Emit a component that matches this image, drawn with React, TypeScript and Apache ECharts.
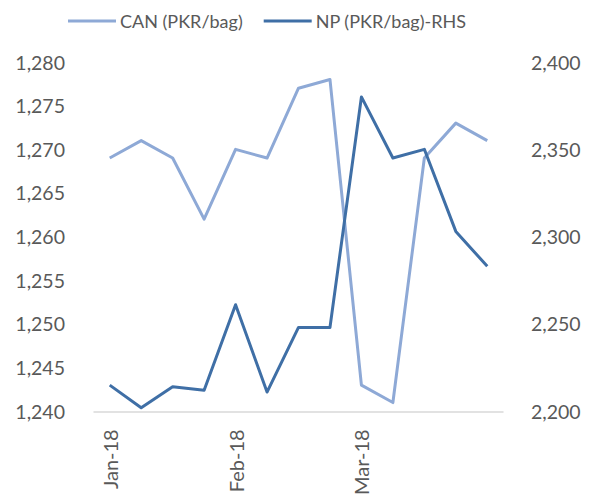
import React, { useEffect, useRef } from "react";
import * as echarts from "echarts";

const categories = ["Jan-18", "", "", "", "Feb-18", "", "", "", "Mar-18", "", "", "", ""];
const canValues = [1269, 1271, 1269, 1262, 1270, 1269, 1277, 1278, 1243, 1241, 1269, 1273, 1271];
const npValues = [2215, 2202, 2214, 2212, 2261, 2211, 2248, 2248, 2380, 2345, 2350, 2303, 2283];
const seriesNames = ["CAN (PKR/bag)", "NP (PKR/bag)-RHS"];

const FONT = "Lato, 'Open Sans', sans-serif";
const GREY = "#595959";

export default function App() {
  const ref = useRef<HTMLDivElement>(null);
  useEffect(() => {
    if (!ref.current) return;
    const chart = echarts.init(ref.current, null, { renderer: "svg" });
    const fmt = (v: number) => v.toLocaleString("en-US");
    chart.setOption({
      animation: false,
      backgroundColor: "#ffffff",
      textStyle: { fontFamily: FONT },
      legend: {
        top: 7,
        left: 63,
        itemWidth: 48,
        itemHeight: 3,
        itemGap: 21,
        icon: "rect",
        textStyle: { fontSize: 18, color: GREY, fontFamily: FONT, padding: [0, 0, 0, -1] },
        data: seriesNames,
      },
      grid: { left: 94, right: 86, top: 62, bottom: 84, containLabel: false },
      xAxis: {
        type: "category",
        data: categories,
        boundaryGap: true,
        axisLine: { show: true, lineStyle: { color: "#D9D9D9", width: 1.5 } },
        axisTick: { show: false },
        axisLabel: {
          interval: 0,
          rotate: 90,
          color: GREY,
          fontSize: 20,
          fontFamily: FONT,
          margin: 18,
        },
      },
      yAxis: [
        {
          type: "value",
          min: 1240,
          max: 1280,
          interval: 5,
          axisLine: { show: false },
          axisTick: { show: false },
          splitLine: { show: false },
          axisLabel: { color: GREY, fontSize: 19.5, fontFamily: FONT, margin: 29, formatter: fmt },
        },
        {
          type: "value",
          min: 2200,
          max: 2400,
          interval: 50,
          position: "right",
          axisLine: { show: false },
          axisTick: { show: false },
          splitLine: { show: false },
          axisLabel: { color: GREY, fontSize: 19.5, fontFamily: FONT, margin: 28, formatter: fmt },
        },
      ],
      series: [
        {
          name: seriesNames[0],
          type: "line",
          data: canValues,
          yAxisIndex: 0,
          showSymbol: false,
          symbol: "none",
          lineStyle: { color: "#8EA9D6", width: 3, join: "round" },
          itemStyle: { color: "#8EA9D6" },
        },
        {
          name: seriesNames[1],
          type: "line",
          data: npValues,
          yAxisIndex: 1,
          showSymbol: false,
          symbol: "none",
          lineStyle: { color: "#3F6FA6", width: 3, join: "round" },
          itemStyle: { color: "#3F6FA6" },
        },
      ],
    });
    return () => chart.dispose();
  }, []);
  return <div ref={ref} style={{ width: 589, height: 498, position: "absolute", left: 0, top: 0 }} />;
}
